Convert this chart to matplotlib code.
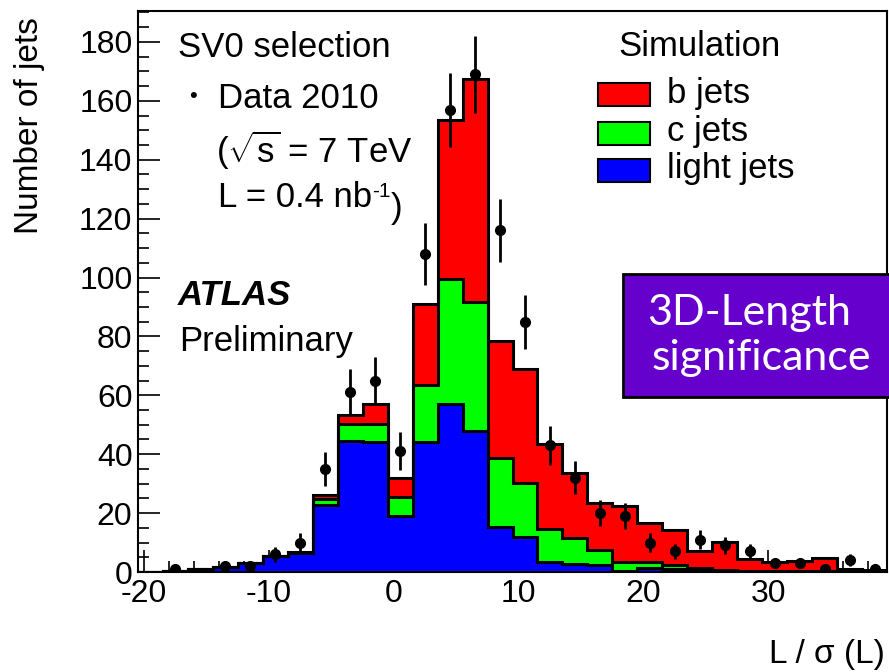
import matplotlib
matplotlib.use("Agg")
import matplotlib.pyplot as plt
import numpy as np
from matplotlib.patches import Rectangle
from matplotlib.ticker import MultipleLocator

W, H = 889, 672

# binning: 30 bins of width 2 from -20.5 to 39.5
bin_edges = np.arange(-20.5, 40.0, 2.0)
bin_centers = 0.5 * (bin_edges[:-1] + bin_edges[1:])

# stacked simulation
light_jets = [0, 0.3, 0.9, 1.8, 3.0, 5.5, 6.5, 22.6, 44.5, 44.2,
              19.0, 44.0, 57.0, 48.0, 15.2, 11.8, 3.3, 2.8, 2.4, 0.5,
              1.5, 1.0, 0.4, 0.2, 0.1, 0.1, 0.1, 0.1, 0.0, 0.0]
c_jets = [0, 0, 0, 0, 0, 0.1, 0.1, 2.3, 5.6, 6.2,
          6.4, 19.5, 42.4, 43.8, 23.6, 18.5, 11.4, 8.7, 5.1, 2.8,
          1.8, 1.5, 1.1, 0.5, 0.4, 0.3, 0.3, 0.2, 0.2, 0.2]
b_jets = [0, 0, 0, 0, 0, 0, 0.1, 1.1, 3.1, 6.8,
          6.6, 27.5, 54.1, 75.7, 39.6, 38.8, 28.6, 22.2, 15.9, 19.1,
          13.4, 11.6, 5.6, 9.6, 4.0, 2.9, 3.5, 4.4, 0.8, 0.5]

# data 2010
data_counts = [0, 1, 0, 2, 2, 6, 10, 35, 61, 65,
               41, 108, 157, 169, 116, 85, 43, 32, 20, 19,
               10, 7, 11, 9, 7, 3, 3, 1, 4, 1]

legend_labels = ["b jets", "c jets", "light jets"]
colors = {"b": "#ff0000", "c": "#00ff00", "light": "#0000ff"}


def px(x, y):
    """pixel (top-left origin) -> figure fraction"""
    return x / W, 1 - y / H


plt.rcParams["font.family"] = ["Liberation Sans", "DejaVu Sans"]
plt.rcParams["mathtext.fontset"] = "custom"
plt.rcParams["mathtext.rm"] = "Liberation Sans"
plt.rcParams["mathtext.it"] = "Liberation Sans:italic"
plt.rcParams["axes.unicode_minus"] = False

fig = plt.figure(figsize=(W / 100, H / 100), dpi=100)
ax = fig.add_axes([138 / W, 1 - 572 / H, (887 - 138) / W, (572 - 11) / H])

light = np.array(light_jets)
c_stack = light + np.array(c_jets)
total = c_stack + np.array(b_jets)

for vals, col in [(total, colors["b"]), (c_stack, colors["c"]), (light, colors["light"])]:
    ax.stairs(vals, bin_edges, fill=True, baseline=0, facecolor=col,
              edgecolor="none", zorder=2)
    ax.stairs(vals, bin_edges, baseline=0, color="black", linewidth=2.2, zorder=3)

d = np.array(data_counts, dtype=float)
mask = d > 0
ax.errorbar(bin_centers[mask], d[mask], yerr=np.sqrt(d[mask]), fmt="o",
            color="black", markersize=7, elinewidth=2, capsize=0, zorder=5)

ax.set_xlim(-20.5, 39.5)
ax.set_ylim(0, 190.5)
ax.xaxis.set_major_locator(MultipleLocator(10))
ax.xaxis.set_minor_locator(MultipleLocator(2))
ax.yaxis.set_major_locator(MultipleLocator(20))
ax.yaxis.set_minor_locator(MultipleLocator(5))
ax.tick_params(which="both", direction="in", top=False, right=False,
               labelsize=23, width=1.2)
ax.tick_params(which="major", length=16)
ax.tick_params(which="minor", length=8)
ax.tick_params(axis="x", pad=5)
ax.tick_params(axis="y", pad=4)
for sp in ax.spines.values():
    sp.set_linewidth(1.5)

fig.text(*px(30, 126), "Number of jets", rotation=90, fontsize=24,
         ha="center", va="center")
fig.text(*px(885, 663), "L / σ (L)", fontsize=24, ha="right", va="baseline")

fig.text(*px(178, 57), "SV0 selection", fontsize=25, va="baseline")
fig.text(*px(193, 97), "•", fontsize=16, ha="center", va="center")
fig.text(*px(218, 108), "Data 2010", fontsize=25, va="baseline")
fig.text(*px(216, 163), r"($\sqrt{\mathrm{s}}$ = 7 TeV", fontsize=25, va="baseline")
lumi = fig.text(*px(218, 207), "L = 0.4 nb", fontsize=25, va="baseline")
sup = ax.annotate("-1", xy=(1, 0), xycoords=lumi, xytext=(0, 12),
                  textcoords="offset points", fontsize=15, va="baseline")
ax.annotate(")", xy=(1, 0), xycoords=sup, xytext=(0, -12),
            textcoords="offset points", fontsize=25, va="baseline")
fig.text(*px(178, 305), "ATLAS", fontsize=25, fontweight="bold",
         fontstyle="italic", va="baseline")
fig.text(*px(179, 351), "Preliminary", fontsize=25, va="baseline")

fig.text(*px(618, 56), "Simulation", fontsize=25, va="baseline")
box_y = [83, 122, 159]
label_y = [103, 141, 178]
for lab, key, by, ly in zip(legend_labels, ["b", "c", "light"], box_y, label_y):
    x0, y0 = px(598, by + 23)
    fig.add_artist(Rectangle((x0, y0), 52 / W, 23 / H, transform=fig.transFigure,
                             facecolor=colors[key], edgecolor="black", linewidth=1.5))
    fig.text(*px(667, ly), lab, fontsize=25, va="baseline")

bx, by = px(623, 397)
fig.add_artist(Rectangle((bx, by), 280 / W, 123 / H, transform=fig.transFigure,
                         facecolor="#6600cc", edgecolor="black", linewidth=2,
                         clip_on=False, zorder=6))
fig.text(*px(749, 325), "3D-Length", fontsize=31, color="white",
         ha="center", va="baseline", family="Lato", zorder=7)
fig.text(*px(761, 370), "significance", fontsize=31, color="white",
         ha="center", va="baseline", family="Lato", zorder=7)

fig.savefig("out.png", dpi=100)
